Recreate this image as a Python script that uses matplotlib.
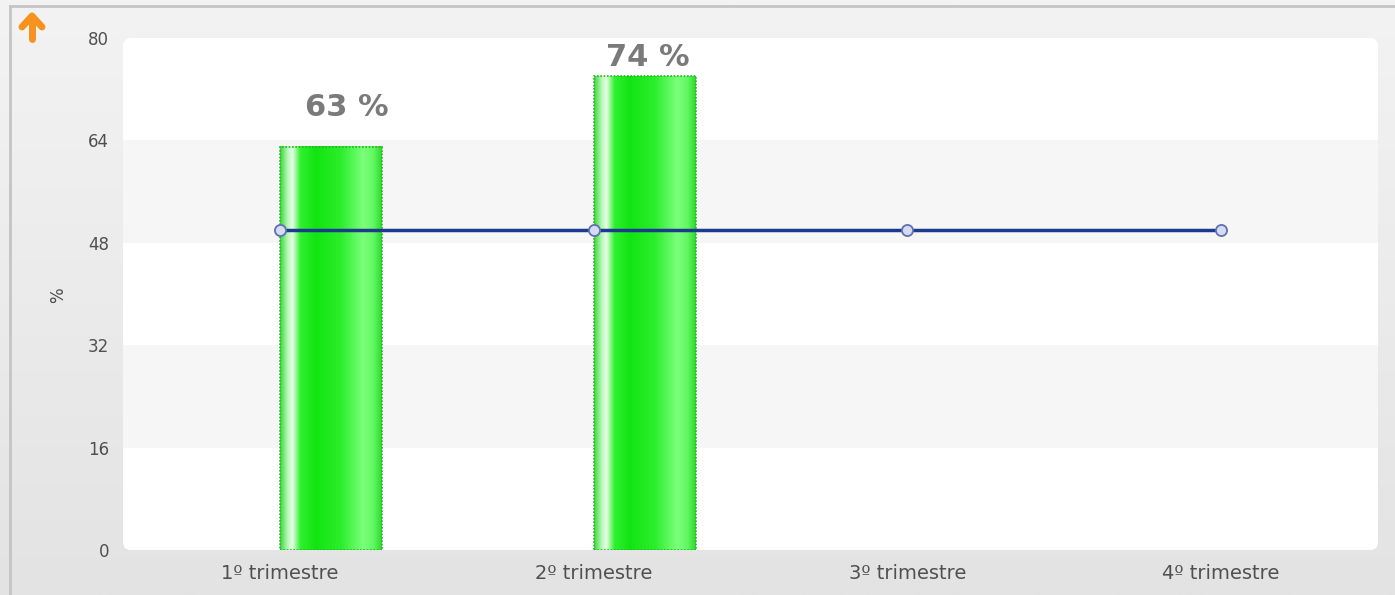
import numpy as np
import matplotlib
matplotlib.use("Agg")
import matplotlib.pyplot as plt
from matplotlib.patches import FancyBboxPatch, Rectangle
from matplotlib.colors import LinearSegmentedColormap
from matplotlib.lines import Line2D

categories = ["1º trimestre", "2º trimestre", "3º trimestre", "4º trimestre"]
bar_values = [63, 74]
target_values = [50, 50, 50, 50]
y_ticks = [0, 16, 32, 48, 64, 80]
bar_labels = ["63 %", "74 %"]

W, H = 1395, 595
fig = plt.figure(figsize=(W / 100, H / 100), dpi=100)

# background gradient
bg = fig.add_axes([0, 0, 1, 1])
bg.set_xlim(0, W)
bg.set_ylim(H, 0)
bg.axis("off")
grad = np.linspace(0, 1, 256).reshape(-1, 1)
bg_cmap = LinearSegmentedColormap.from_list("bg", ["#f3f3f3", "#e3e3e3"])
bg.imshow(grad, cmap=bg_cmap, extent=[0, W, H, 0], aspect="auto", zorder=0)
bg.add_line(Line2D([10, W], [6, 6], color="#c4c4c4", lw=2, zorder=1))
bg.add_line(Line2D([10, 10], [6, H], color="#c4c4c4", lw=2, zorder=1))
bg.add_patch(FancyBboxPatch((123, 38), 1378 - 123, 550 - 38,
                            boxstyle="round,pad=0,rounding_size=8",
                            fc="white", ec="none", zorder=2))
# orange arrow
bg.add_line(Line2D([32, 32], [39, 17], color="#f7921e", lw=5,
                   solid_capstyle="round", zorder=3))
bg.add_line(Line2D([22, 32, 42], [27, 16, 27], color="#f7921e", lw=5,
                   solid_capstyle="round", solid_joinstyle="round", zorder=3))
bg.text(58, 295, "%", rotation=90, ha="center", va="center",
        fontsize=12, color="#4a4a4a", zorder=3)

ax = fig.add_axes([123 / W, 45 / H, (1378 - 123) / W, (550 - 38) / H])
ax.set_facecolor("none")
ax.set_xlim(-0.5, 3.5)
ax.set_ylim(0, 80)
for s in ax.spines.values():
    s.set_visible(False)

for lo, hi in [(48, 64), (16, 32)]:
    ax.axhspan(lo, hi, color="#f6f6f6", zorder=0, lw=0)

bar_w = 0.325
gcmap = LinearSegmentedColormap.from_list(
    "g", [(0, "#3ad83a"), (0.07, "#b0f8b0"), (0.12, "#e8ffe8"), (0.2, "#30f030"),
          (0.35, "#12e412"), (0.6, "#2cee2c"), (0.82, "#7cff7c"), (0.92, "#60f860"),
          (1.0, "#30d830")])
xs = np.arange(len(categories))
gx = np.linspace(0, 1, 256).reshape(1, -1)
top_limit = 76.9
for i, v in enumerate(bar_values):
    x0 = xs[i]
    ax.imshow(gx, cmap=gcmap, extent=[x0, x0 + bar_w, 0, v], aspect="auto",
              zorder=2, interpolation="bilinear")
    ax.add_patch(Rectangle((x0, 0), bar_w, v, fill=False, ec="#22b822",
                           lw=1.2, ls=(0, (1, 1)), zorder=3))
    clamped = v + 6.1 >= top_limit
    ty = top_limit if clamped else v + 6.1
    ax.text(x0 + bar_w / 2 + (0.01 if clamped else 0.05), ty, bar_labels[i],
            ha="center", va="center", fontsize=22, fontweight="bold",
            color="#7a7a7a", zorder=5)

ax.plot(xs, target_values, color="#1c3a8e", lw=2.5, zorder=4,
        marker="o", ms=8, mfc="#d4dbf4", mec="#6070b0", mew=1.3)

ax.set_xticks(xs)
ax.set_xticklabels(categories)
ax.set_yticks(y_ticks)
ax.tick_params(axis="x", length=0, labelsize=14, colors="#505050", pad=10)
ax.tick_params(axis="y", length=0, labelsize=12, colors="#505050", pad=10)
ax.set_xlim(-0.5, 3.5)
ax.set_ylim(0, 80)

fig.savefig("out.png", dpi=100)
